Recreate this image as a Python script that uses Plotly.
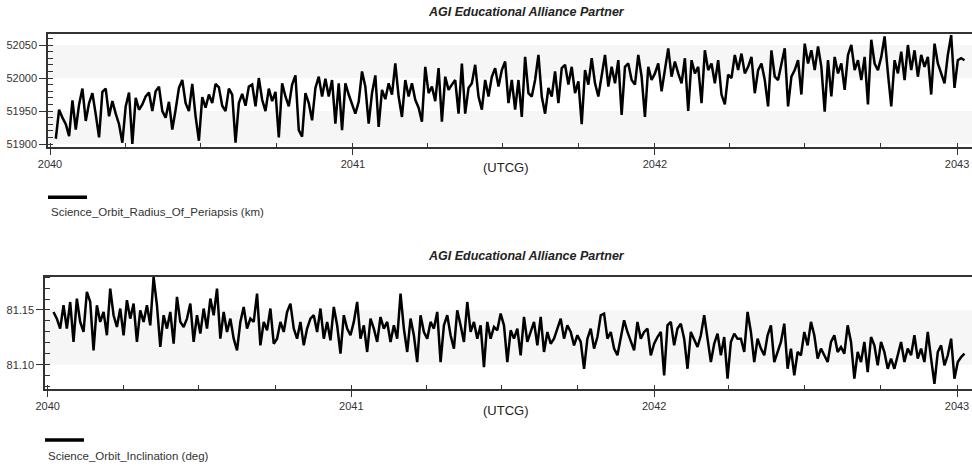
import pandas as pd
import plotly.graph_objects as go

# ---------------- data ----------------
CHART_TITLE = "AGI Educational Alliance Partner"
X_TITLE = "(UTCG)"
SERIES1_NAME = "Science_Orbit_Radius_Of_Periapsis (km)"
SERIES2_NAME = "Science_Orbit_Inclination (deg)"

START_DATE = "2040-01-08"
END_DATE = "2043-01-10"

X_TICK_VALUES = ["2040-01-01", "2041-01-01", "2042-01-01", "2043-01-01"]
X_TICK_LABELS = ["2040", "2041", "2042", "2043"]

Y1_TICK_VALUES = [51900, 51950, 52000, 52050]
Y1_TICK_LABELS = ["51900", "51950", "52000", "52050"]
Y2_TICK_VALUES = [81.10, 81.15]
Y2_TICK_LABELS = ["81.10", "81.15"]

radius_periapsis_km = [
    51908, 51952, 51940, 51930, 51912, 51966, 51922, 51960, 51984, 51935, 51962, 51977, 51945, 51910,
    51979, 51984, 51942, 51965, 51946, 51930, 51902, 51957, 51978, 51900, 51970, 51952, 51960, 51972,
    51978, 51950, 51980, 51987, 51950, 51940, 51964, 51922, 51952, 51985, 51997, 51962, 51950, 51991,
    51942, 51905, 51971, 51955, 51975, 51962, 51991, 51986, 51958, 51950, 51984, 51975, 51902, 51962,
    51976, 51958, 51987, 51990, 51957, 52000, 51967, 51950, 51984, 51965, 51979, 51910,
    51992, 51972, 51957, 51990, 52004, 51921, 51911, 51977, 51962, 51936, 51985, 52002, 51972, 51999,
    51972, 51997, 51931, 51992, 51921, 51992, 51975, 51960, 51946, 51964, 52010, 51987, 51931, 51977,
    52004, 51926, 51982, 51968, 51992, 51975, 52022, 51972, 51941, 51997, 51972, 51992, 51967, 51955,
    51934, 52017, 51977, 51987, 51965, 52015, 51934, 52002, 51982, 51990, 51997, 51946, 52022, 51946,
    51985, 51992, 52020, 51972, 51952, 51997, 51972, 52002, 52015, 51987, 52012, 52025, 51962,
    51997, 51952, 51997, 51941, 52032, 51977, 51972, 51997, 52035, 51972, 51946, 51985, 51972, 52010,
    51962, 52015, 52020, 51990, 52017, 51977, 51995, 51930, 52012, 51990, 52030, 51992, 51972, 52002,
    52035, 51987, 52017, 51992, 52027, 51944, 52017, 52022, 51997, 51990, 52035, 52002, 51941, 52017,
    51997, 52007, 52022, 51980, 52012, 52045, 52002, 52025, 52007, 51992, 52030, 51950, 52027, 52007,
    52017, 51962, 52042, 52012, 52022, 51992, 52027, 51975, 51960, 52005, 52000, 52035, 52012,
    52037, 52007, 52017, 52032, 51977, 52012, 52022, 51997, 51957, 52042, 52002, 51997, 52022, 52045,
    51957, 52002, 52012, 52027, 51975, 52052, 52022, 52042, 52012, 52048, 52017, 51949, 52027, 51972,
    52032, 52007, 52022, 51982, 52035, 52050, 52012, 52027, 51997, 52032, 51960, 52058, 52022, 52012,
    52032, 52063, 52007, 51957, 52027, 52007, 52040, 51997, 52050, 52012, 52042, 52002, 52035, 52017,
    52032, 51975, 52052, 52022, 52007, 51992, 52035, 52065, 51985, 52027, 52030, 52027,
]

inclination_deg = [
    81.1482, 81.1421, 81.1330, 81.1543, 81.1330, 81.1573, 81.1208, 81.1604, 81.1391, 81.1299, 81.1665,
    81.1573, 81.1131, 81.1543, 81.1391, 81.1482, 81.1269, 81.1695, 81.1452, 81.1345, 81.1513, 81.1269,
    81.1589, 81.1421, 81.1558, 81.1208, 81.1497, 81.1391, 81.1543, 81.1360, 81.1802, 81.1543, 81.1162,
    81.1452, 81.1330, 81.1482, 81.1192, 81.1619, 81.1391, 81.1345, 81.1421, 81.1558, 81.1208, 81.1452,
    81.1284, 81.1513, 81.1330, 81.1604, 81.1452, 81.1695, 81.1238, 81.1482, 81.1299, 81.1421, 81.1238,
    81.1131, 81.1391, 81.1528, 81.1330, 81.1421, 81.1391, 81.1650, 81.1177, 81.1391, 81.1314, 81.1513,
    81.1192, 81.1238,
    81.1391, 81.1299, 81.1482, 81.1558, 81.1330, 81.1238, 81.1391, 81.1177, 81.1330, 81.1421, 81.1452,
    81.1299, 81.1513, 81.1238, 81.1391, 81.1223, 81.1528, 81.1360, 81.1101, 81.1452, 81.1330, 81.1269,
    81.1391, 81.1573, 81.1238, 81.1360, 81.1116, 81.1421, 81.1330, 81.1208, 81.1436, 81.1330, 81.1391,
    81.1208, 81.1360, 81.1238, 81.1650, 81.1330, 81.1116, 81.1421, 81.1269, 81.1024, 81.1452, 81.1299,
    81.1238, 81.1391, 81.1330, 81.1482, 81.1024, 81.1360, 81.1452, 81.1269, 81.1147, 81.1497, 81.1360,
    81.1208, 81.1573, 81.1299, 81.1391, 81.1238, 81.1360, 81.0978, 81.1391, 81.1238, 81.1345, 81.1314,
    81.1467, 81.1360, 81.1024,
    81.1314, 81.1238, 81.1330, 81.1086, 81.1436, 81.1208, 81.1299, 81.1391, 81.1177, 81.1436, 81.1116,
    81.1299, 81.1192, 81.1238, 81.1330, 81.1421, 81.1238, 81.1360, 81.1299, 81.1177, 81.1269, 81.1208,
    81.0963, 81.1238, 81.1330, 81.1147, 81.1253, 81.1452, 81.1467, 81.1238, 81.1299, 81.1147, 81.1086,
    81.1238, 81.1406, 81.1299, 81.1223, 81.1131, 81.1391, 81.1238, 81.1299, 81.1330, 81.1086, 81.1192,
    81.1253, 81.1299, 81.0902, 81.1360, 81.1391, 81.1177, 81.1330, 81.1375, 81.1238, 81.0963, 81.1299,
    81.1223, 81.1162, 81.1269, 81.1452, 81.1238, 81.1024, 81.1192, 81.1284, 81.1086, 81.1253, 81.0872,
    81.1208, 81.1284, 81.1238,
    81.1238, 81.1116, 81.1482, 81.1299, 81.1024, 81.1238, 81.1147, 81.1086, 81.1269, 81.1360, 81.1024,
    81.1116, 81.1208, 81.1375, 81.0963, 81.1147, 81.0902, 81.1116, 81.1086, 81.1299, 81.1177, 81.1391,
    81.1269, 81.1055, 81.1147, 81.1086, 81.1024, 81.1208, 81.1269, 81.1116, 81.1162, 81.1101, 81.1360,
    81.1208, 81.0872, 81.1116, 81.1024, 81.1208, 81.0933, 81.1253, 81.1177, 81.0994, 81.1208, 81.1116,
    81.0963, 81.1055, 81.0963, 81.1086, 81.1208, 81.1024, 81.1147, 81.1086, 81.1269, 81.1055, 81.1147,
    81.1024, 81.1299, 81.1055, 81.0826, 81.1116, 81.1177, 81.0994, 81.1086, 81.1238, 81.0872, 81.1024,
    81.1070, 81.1101,
]

# ---------------- figure ----------------
W, H = 972, 466
FONT = "Liberation Sans, Arial, sans-serif"
TXT = "#333333"
BAND = "#f6f6f6"

t1 = pd.date_range(START_DATE, END_DATE, periods=len(radius_periapsis_km))
t2 = pd.date_range(START_DATE, END_DATE, periods=len(inclination_deg))

fig = go.Figure()
fig.add_trace(go.Scatter(x=t1, y=radius_periapsis_km, mode="lines", line=dict(color="black", width=2.5),
                         xaxis="x", yaxis="y", showlegend=False, name=SERIES1_NAME))
fig.add_trace(go.Scatter(x=t2, y=inclination_deg, mode="lines", line=dict(color="black", width=2.5),
                         xaxis="x2", yaxis="y2", showlegend=False, name=SERIES2_NAME))


def px_x(p):
    return p / W


def px_y(p):
    return 1 - p / H


common_x = dict(
    type="date", tickmode="array", tickvals=X_TICK_VALUES, ticktext=X_TICK_LABELS,
    ticks="outside", ticklen=6, tickwidth=1, tickcolor="#333",
    showline=True, linecolor="#333", linewidth=1.5, mirror=True,
    showgrid=False, zeroline=False, automargin=False,
    tickfont=dict(family=FONT, size=11, color=TXT),
    minor=dict(dtick="M3", tick0="2040-01-01", ticks="inside", ticklen=4, tickcolor="#333", showgrid=False),
)
common_y = dict(
    tickmode="array", ticks="outside", ticklen=7, tickwidth=1, tickcolor="#333",
    showline=True, linecolor="#333", linewidth=1.5, mirror=False,
    showgrid=False, zeroline=False, automargin=False,
    tickfont=dict(family=FONT, size=11, color=TXT),
)

fig.update_layout(
    template="none",
    width=W, height=H, margin=dict(l=0, r=0, t=0, b=0, pad=0),
    paper_bgcolor="white", plot_bgcolor="white",
    xaxis=dict(common_x, domain=[px_x(48), 1], range=["2039-12-29 14:00", "2043-01-19 02:00"], anchor="y"),
    yaxis=dict(common_y, domain=[px_y(147), px_y(34)], range=[51895.5, 52066.7], anchor="x",
               tickvals=Y1_TICK_VALUES, ticktext=Y1_TICK_LABELS,
               minor=dict(dtick=10, tick0=51900, ticks="inside", ticklen=5, tickcolor="#333", showgrid=False)),
    xaxis2=dict(common_x, domain=[px_x(45), 1], range=["2039-12-28 18:00", "2043-01-19 02:00"], anchor="y2"),
    yaxis2=dict(common_y, domain=[px_y(389), px_y(276.7)], range=[81.0778, 81.1804], anchor="x2",
                tickvals=Y2_TICK_VALUES, ticktext=Y2_TICK_LABELS,
                minor=dict(dtick=0.01, tick0=81.10, ticks="inside", ticklen=5, tickcolor="#333", showgrid=False)),
)

# alternating background bands
shapes = []
for lo, hi in [(51900, 51950), (52000, 52050)]:
    shapes.append(dict(type="rect", xref="x domain", yref="y", x0=0, x1=1, y0=lo, y1=hi,
                       fillcolor=BAND, line=dict(width=0), layer="below"))
shapes.append(dict(type="rect", xref="x2 domain", yref="y2", x0=0, x1=1, y0=81.10, y1=81.15,
                   fillcolor=BAND, line=dict(width=0), layer="below"))
# legend glyphs
shapes.append(dict(type="line", xref="paper", yref="paper", x0=px_x(48), x1=px_x(87), y0=px_y(197.3), y1=px_y(197.3),
                   line=dict(color="black", width=3.5)))
shapes.append(dict(type="line", xref="paper", yref="paper", x0=px_x(45), x1=px_x(84), y0=px_y(440), y1=px_y(440),
                   line=dict(color="black", width=3.5)))
fig.update_layout(shapes=shapes)

ann = []
for yy in (12, 256):
    ann.append(dict(text=f"<b><i>{CHART_TITLE}</i></b>", x=px_x(526), y=px_y(yy), xref="paper", yref="paper",
                    showarrow=False, xanchor="center", yanchor="middle",
                    font=dict(family=FONT, size=12.5, color="#222")))
for yy in (168, 410):
    ann.append(dict(text=X_TITLE, x=px_x(506), y=px_y(yy), xref="paper", yref="paper",
                    showarrow=False, xanchor="center", yanchor="middle",
                    font=dict(family=FONT, size=13, color="#222")))
ann.append(dict(text=SERIES1_NAME, x=px_x(49), y=px_y(212), xref="paper", yref="paper", showarrow=False,
                xanchor="left", yanchor="middle", font=dict(family=FONT, size=11.5, color=TXT)))
ann.append(dict(text=SERIES2_NAME, x=px_x(46), y=px_y(455.5), xref="paper", yref="paper", showarrow=False,
                xanchor="left", yanchor="middle", font=dict(family=FONT, size=11.5, color=TXT)))
fig.update_layout(annotations=ann)

fig.write_html("out.html")
